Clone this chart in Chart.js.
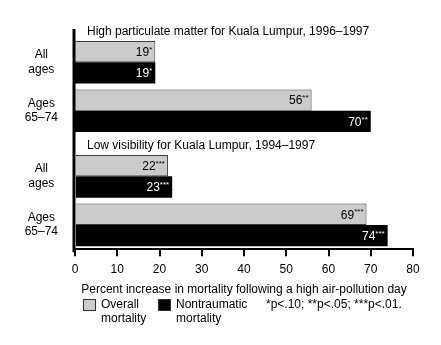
<!DOCTYPE html>
<html><head><meta charset="utf-8">
<script src="https://cdn.jsdelivr.net/npm/chart.js@4"></script>
<style>
html,body{margin:0;padding:0;background:#fff;}
#wrap{position:relative;width:441px;height:345px;overflow:hidden;}
#c1{position:absolute;left:0;top:0;}
#c2{position:absolute;left:0;top:140px;}
</style></head><body>
<div id="wrap">
<canvas id="c1" width="441" height="140"></canvas>
<canvas id="c2" width="441" height="205"></canvas>
</div>
<script>
// ---- data ----
const categories = [["All", "ages"], ["Ages", "65–74"]];
const sectionTitles = ["High particulate matter for Kuala Lumpur, 1996–1997", "Low visibility for Kuala Lumpur, 1994–1997"];
const seriesLabels = [["Overall", "mortality"], ["Nontraumatic", "mortality"]];
const pmOverall = [19, 56];
const pmNontraumatic = [19, 70];
const pmOverallSig = ["*", "**"];
const pmNontraumaticSig = ["*", "**"];
const visOverall = [22, 69];
const visNontraumatic = [23, 74];
const visOverallSig = ["***", "***"];
const visNontraumaticSig = ["***", "***"];
const xTickValues = [0, 10, 20, 30, 40, 50, 60, 70, 80];
const xTitle = "Percent increase in mortality following a high air-pollution day";
const footnote = "*p<.10; **p<.05; ***p<.01.";

const FAM = "'Liberation Sans', Arial, Helvetica, sans-serif";
const GRAY = "#cbcbcb";

const valueLabels = {
  id: 'valueLabels',
  afterDatasetsDraw(chart) {
    const ctx = chart.ctx;
    chart.data.datasets.forEach((ds, di) => {
      const meta = chart.getDatasetMeta(di);
      meta.data.forEach((bar, i) => {
        const v = ds.data[i];
        const sig = ds.sig[i];
        ctx.save();
        ctx.fillStyle = ds.textColor;
        ctx.textBaseline = 'middle';
        ctx.textAlign = 'right';
        const xEnd = bar.x - 3;
        ctx.font = "8px " + FAM;
        const sw = ctx.measureText(sig).width;
        ctx.fillText(sig, xEnd, bar.y - 2);
        ctx.font = "12px " + FAM;
        ctx.fillText(String(v), xEnd - sw, bar.y + 1);
        ctx.restore();
      });
    });
  }
};

const axisAndTitle = {
  id: 'axisAndTitle',
  afterDatasetsDraw(chart, args, opts) {
    const ctx = chart.ctx;
    const a = chart.chartArea;
    ctx.save();
    ctx.strokeStyle = '#000';
    ctx.lineWidth = 3;
    ctx.beginPath();
    ctx.moveTo(a.left - 1, opts.lineTop);
    ctx.lineTo(a.left - 1, opts.lineBottom === null ? chart.height : a.bottom + 3);
    ctx.stroke();
    ctx.fillStyle = '#000';
    ctx.font = "12px " + FAM;
    ctx.textBaseline = 'middle';
    ctx.textAlign = 'left';
    ctx.fillText(opts.title, a.left + 12, a.top - 6);
    ctx.restore();
  }
};

const legendPlugin = {
  id: 'legendPlugin',
  afterDraw(chart, args, opts) {
    if (!opts.show) return;
    const ctx = chart.ctx;
    const boxX = [83, 158];
    const y0 = 159;
    ctx.save();
    chart.data.datasets.forEach((ds, i) => {
      ctx.fillStyle = ds.backgroundColor;
      ctx.fillRect(boxX[i], y0, 13, 12);
      ctx.strokeStyle = '#333';
      ctx.lineWidth = 1;
      ctx.strokeRect(boxX[i] + 0.5, y0 + 0.5, 12, 11);
      ctx.fillStyle = '#000';
      ctx.font = "12px " + FAM;
      ctx.textAlign = 'left';
      ctx.textBaseline = 'middle';
      seriesLabels[i].forEach((t, j) => ctx.fillText(t, boxX[i] + 18, y0 + 6 + j * 14));
    });
    ctx.fillText(footnote, 266, y0 + 6);
    ctx.restore();
  }
};

function makeChart(id, title, overall, nontraumatic, overallSig, nonSig, showX, pad, lineTop, lineBottom) {
  return new Chart(document.getElementById(id), {
    type: 'bar',
    data: {
      labels: categories,
      datasets: [
        { label: seriesLabels[0].join(' '), data: overall, sig: overallSig, textColor: '#000',
          backgroundColor: GRAY, borderColor: '#3a3a3a', borderWidth: 1,
          categoryPercentage: 0.88, barPercentage: 1 },
        { label: seriesLabels[1].join(' '), data: nontraumatic, sig: nonSig, textColor: '#fff',
          backgroundColor: '#000', borderColor: '#000', borderWidth: 0,
          categoryPercentage: 0.88, barPercentage: 1 }
      ]
    },
    options: {
      indexAxis: 'y',
      responsive: false,
      animation: false,
      layout: { padding: pad },
      plugins: {
        legend: { display: false },
        tooltip: { enabled: false },
        axisAndTitle: { title: title, lineTop: lineTop, lineBottom: lineBottom },
        legendPlugin: { show: showX }
      },
      scales: {
        x: {
          display: showX,
          min: 0, max: 80,
          afterBuildTicks: s => { s.ticks = xTickValues.map(v => ({ value: v })); },
          ticks: { color: '#000', font: { size: 12, family: FAM }, padding: 6, maxRotation: 0 },
          grid: { drawOnChartArea: false, drawTicks: true, tickLength: 7, color: '#000', lineWidth: 2 },
          border: { display: true, color: '#000', width: 2 },
          title: { display: showX, text: xTitle, color: '#000', font: { size: 12, family: FAM }, padding: { top: 0, bottom: 0 } }
        },
        y: {
          type: 'category',
          grid: { display: false },
          border: { display: false },
          afterFit: s => { s.width = 75; s.paddingTop = 0; s.paddingBottom = 0; },
          ticks: { color: '#000', font: { size: 12, family: FAM, lineHeight: 1.2 }, crossAlign: 'center', padding: 9 }
        }
      }
    },
    plugins: [valueLabels, axisAndTitle, legendPlugin]
  });
}

makeChart('c1', sectionTitles[0], pmOverall, pmNontraumatic, pmOverallSig, pmNontraumaticSig, false,
  { top: 38, bottom: 5, left: 0, right: 28 }, 29, null);
makeChart('c2', sectionTitles[1], visOverall, visNontraumatic, visOverallSig, visNontraumaticSig, true,
  { top: 12, bottom: 48, left: 0, right: 28 }, 0, 'axis');
</script>
</body></html>
